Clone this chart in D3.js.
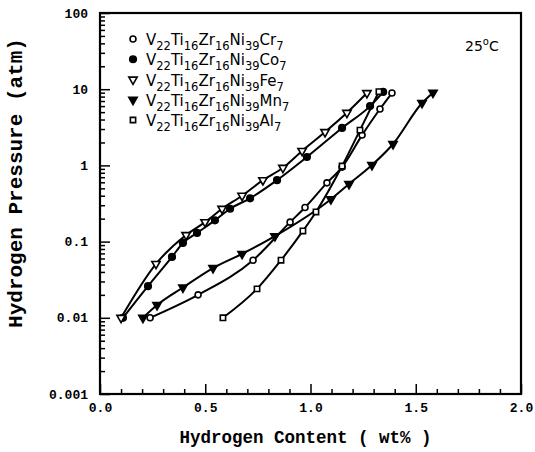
<!DOCTYPE html>
<html>
<head>
<meta charset="utf-8">
<script src="https://cdn.jsdelivr.net/npm/d3@7"></script>
<style>
  body { margin: 0; background: #fff; }
  svg { display: block; }
</style>
</head>
<body>
<div id="chart"></div>
<script>
// data: [wt%, atm]
const crData = [[0.238, 0.01], [0.466, 0.020], [0.727, 0.057], [0.903, 0.18], [0.974, 0.28],
    [1.078, 0.59], [1.150, 0.95], [1.245, 2.5], [1.330, 5.5], [1.387, 8.9]];
const coData = [[0.109, 0.01], [0.228, 0.026], [0.342, 0.063], [0.394, 0.096], [0.461, 0.13],
    [0.546, 0.19], [0.618, 0.27], [0.713, 0.37], [0.841, 0.64], [0.983, 1.29],
    [1.150, 3.1], [1.283, 6.0], [1.345, 9.2]];
const feData = [[0.100, 0.01], [0.266, 0.051], [0.409, 0.122], [0.499, 0.18], [0.580, 0.27],
    [0.675, 0.40], [0.774, 0.64], [0.869, 0.93], [0.960, 1.55], [1.069, 2.74],
    [1.173, 4.9], [1.268, 8.9]];
const mnData = [[0.204, 0.01], [0.271, 0.0147], [0.394, 0.025], [0.537, 0.045], [0.675, 0.069],
    [0.831, 0.118], [1.097, 0.36], [1.183, 0.57], [1.292, 1.01], [1.392, 1.91],
    [1.530, 6.6], [1.582, 9.0]];
const alData = [[0.584, 0.01], [0.746, 0.024], [0.860, 0.057], [0.964, 0.138], [1.026, 0.245],
    [1.150, 0.98], [1.235, 2.9], [1.325, 9.3]];

// legend: alloying element of each series
const legendNames = ["Cr", "Co", "Fe", "Mn", "Al"];
const legendSymbols = ["circleOpen", "circleFilled", "triOpen", "triFilled", "squareOpen"];
const seriesData = [crData, coData, feData, mnData, alData];

const xTickLabels = [0, 0.5, 1.0, 1.5, 2.0];
const yTickLabels = [0.001, 0.01, 0.1, 1, 10, 100];

let W = 535, H = 452;
let margin = {top: 13, right: 14, bottom: 58, left: 100};
let width = W - margin.left - margin.right,
    height = H - margin.top - margin.bottom;

let svg = d3.select("#chart").append("svg")
    .attr("width", W)
    .attr("height", H);

let g = svg.append("g")
    .attr("transform", "translate(" + margin.left + "," + margin.top + ")");

let x = d3.scaleLinear().domain([0, 2]).range([0, width]);
let y = d3.scaleLog().domain([0.001, 100]).range([height, 0]);

let monoFont = "'Liberation Mono', 'Courier New', monospace";

// minor ticks
let xMinor = d3.range(0, 21).map(function (i) { return i / 10; })
    .filter(function (v) { return Math.round(v * 10) % 5 !== 0; });
let yMinor = y.ticks().filter(function (v) {
    return Math.abs(Math.log10(v) - Math.round(Math.log10(v))) > 1e-6;
});

g.append("g")
    .attr("transform", "translate(0," + height + ")")
    .call(d3.axisBottom(x).tickValues(xMinor).tickSizeInner(-5).tickSizeOuter(0).tickFormat(""))
    .call(function (a) { a.select(".domain").remove(); });

g.append("g")
    .call(d3.axisLeft(y).tickValues(yMinor).tickSizeInner(-5).tickSizeOuter(0).tickFormat(""))
    .call(function (a) { a.select(".domain").remove(); });

// major ticks with labels
let xAxis = g.append("g")
    .attr("transform", "translate(0," + height + ")")
    .call(d3.axisBottom(x).tickValues(xTickLabels).tickSizeInner(-10).tickSizeOuter(0)
        .tickPadding(9).tickFormat(d3.format(".1f")));
xAxis.select(".domain").remove();

let yAxis = g.append("g")
    .call(d3.axisLeft(y).tickValues(yTickLabels).tickSizeInner(-10).tickSizeOuter(0)
        .tickPadding(12).tickFormat(function (d) { return String(d); }));
yAxis.select(".domain").remove();

g.selectAll(".tick line").attr("stroke", "#000").attr("stroke-width", 1.5);
g.selectAll(".tick text")
    .attr("font-family", monoFont)
    .attr("font-weight", "bold")
    .attr("font-size", 13)
    .attr("fill", "#000");

// frame
g.append("rect")
    .attr("width", width)
    .attr("height", height)
    .attr("fill", "none")
    .attr("stroke", "#000")
    .attr("stroke-width", 2.2);

// axis titles
svg.append("text")
    .attr("x", margin.left + width / 2 - 5)
    .attr("y", 443)
    .attr("text-anchor", "middle")
    .attr("font-family", monoFont)
    .attr("font-weight", "bold")
    .attr("font-size", 17.5)
    .text("Hydrogen Content ( wt% )");

svg.append("text")
    .attr("transform", "translate(22,183) rotate(-90)")
    .attr("text-anchor", "middle")
    .attr("font-family", monoFont)
    .attr("font-weight", "bold")
    .attr("font-size", 21)
    .text("Hydrogen Pressure (atm)");

// lines
let line = d3.line()
    .curve(d3.curveMonotoneX)
    .x(function (d) { return x(d[0]); })
    .y(function (d) { return y(d[1]); });

seriesData.forEach(function (data) {
    g.append("path")
        .datum(data)
        .attr("d", line)
        .attr("fill", "none")
        .attr("stroke", "#000")
        .attr("stroke-width", 2);
});

// markers
function drawMarker(sel, kind) {
    let type, size, rot = 0, filled;
    if (kind === "circleOpen") { type = d3.symbolCircle; size = 28; filled = false; }
    if (kind === "circleFilled") { type = d3.symbolCircle; size = 34; filled = true; }
    if (kind === "triOpen") { type = d3.symbolTriangle; size = 30; filled = false; rot = 180; }
    if (kind === "triFilled") { type = d3.symbolTriangle; size = 30; filled = true; rot = 180; }
    if (kind === "squareOpen") { type = d3.symbolSquare; size = 28; filled = false; }
    sel.append("path")
        .attr("d", d3.symbol().type(type).size(size))
        .attr("transform", "rotate(" + rot + ")")
        .attr("fill", filled ? "#000" : "#fff")
        .attr("stroke", "#000")
        .attr("stroke-width", 1.6);
}

seriesData.forEach(function (data, i) {
    let pts = g.append("g").selectAll("g")
        .data(data)
        .enter().append("g")
        .attr("transform", function (d) { return "translate(" + x(d[0]) + "," + y(d[1]) + ")"; });
    drawMarker(pts, legendSymbols[i]);
});

// legend
let legend = svg.append("g");
legendNames.forEach(function (name, i) {
    let base = 45 + i * 20.25;
    let m = legend.append("g").attr("transform", "translate(133," + (base - 6) + ")");
    drawMarker(m, legendSymbols[i]);

    let t = legend.append("text")
        .attr("x", 146)
        .attr("y", base)
        .attr("font-family", "'DejaVu Sans', sans-serif")
        .attr("font-size", 15)
        .attr("fill", "#000");
    let parts = [["V", "22"], ["Ti", "16"], ["Zr", "16"], ["Ni", "39"], [name, "7"]];
    parts.forEach(function (p, j) {
        t.append("tspan").attr("dy", j === 0 ? 0 : -5).text(p[0]);
        t.append("tspan").attr("dy", 5).attr("font-size", 11.5).text(p[1]);
    });
});

// temperature note
let temp = svg.append("text")
    .attr("x", 465)
    .attr("y", 51)
    .attr("font-family", "'DejaVu Sans', sans-serif")
    .attr("font-size", 14)
    .attr("fill", "#000");
temp.append("tspan").text("25");
temp.append("tspan").attr("dy", -6).attr("font-size", 10).text("o");
temp.append("tspan").attr("dy", 6).text("C");
</script>
</body>
</html>
